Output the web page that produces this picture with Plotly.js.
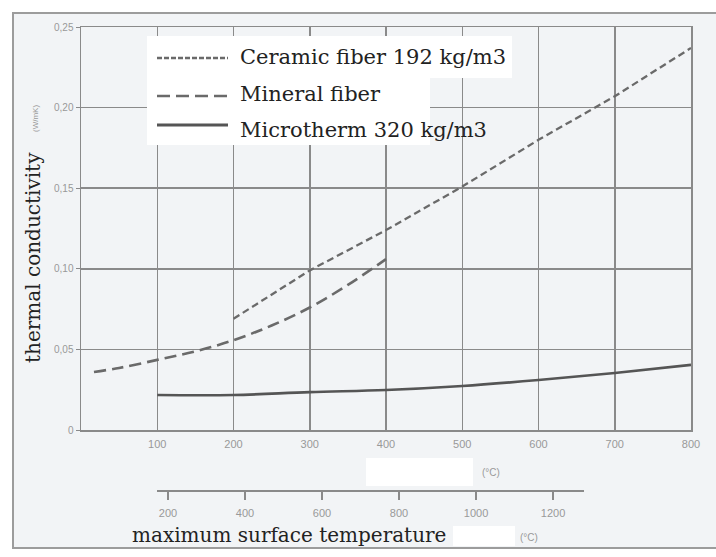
<!DOCTYPE html>
<html>
<head>
<meta charset="utf-8">
<script src="https://cdn.plot.ly/plotly-3.0.1.min.js"></script>
<style>
  html, body { margin: 0; padding: 0; background: #ffffff; }
  #chart { width: 716px; height: 557px; }
</style>
</head>
<body>
<div id="chart"></div>
<script>
// ---- data ----
const ceramicName = "Ceramic fiber 192 kg/m3";
const ceramicX = [200, 300, 400, 500, 600, 700, 800];
const ceramicY = [0.069, 0.099, 0.124, 0.151, 0.180, 0.207, 0.237];

const mineralName = "Mineral fiber";
const mineralX = [17, 50, 100, 150, 200, 250, 300, 350, 400];
const mineralY = [0.036, 0.0385, 0.0435, 0.0488, 0.0557, 0.0648, 0.076, 0.090, 0.106];

const microName = "Microtherm 320 kg/m3";
const microX = [100, 200, 300, 400, 500, 600, 700, 800];
const microY = [0.0217, 0.0217, 0.0235, 0.0248, 0.0273, 0.031, 0.0354, 0.0404];

const xTicks = [100, 200, 300, 400, 500, 600, 700, 800];
const yTicks = [0, 0.05, 0.10, 0.15, 0.20, 0.25];
const yTickText = ["0", "0,05", "0,10", "0,15", "0,20", "0,25"];
const x2Ticks = [200, 400, 600, 800, 1000, 1200];

const yTitle = "thermal conductivity";
const yUnit = "(W/mK)";
const x2Title = "maximum surface temperature";
const unitC = "(°C)";

// ---- layout helpers (pixel -> paper) ----
const M = {l: 81, r: 25, t: 27, b: 10};
const W = 716, H = 557;
const pw = W - M.l - M.r, ph = H - M.t - M.b;
const px = x => (x - M.l) / pw;
const py = y => (H - M.b - y) / ph;

const lineGray = "#6a6a6a";
const gridGray = "#8a8a8a";
const tickGray = "#999999";
const serif = "DejaVu Serif";

const traces = [
  {x: ceramicX, y: ceramicY, name: ceramicName, type: "scatter", mode: "lines",
   line: {color: lineGray, width: 2.3, dash: "7px,4px"}, showlegend: false},
  {x: mineralX, y: mineralY, name: mineralName, type: "scatter", mode: "lines",
   line: {color: lineGray, width: 2.6, dash: "12px,6px", shape: "spline"}, showlegend: false},
  {x: microX, y: microY, name: microName, type: "scatter", mode: "lines",
   line: {color: "#555555", width: 2.6, shape: "spline"}, showlegend: false},
  // empty trace so the second (maximum surface temperature) axis is drawn
  {x: [], y: [], xaxis: "x2", yaxis: "y2", type: "scatter", mode: "lines", showlegend: false, hoverinfo: "skip"}
];

const whiteRect = (x0, y0, x1, y1) => ({type: "rect", xref: "paper", yref: "paper",
  x0: px(x0), x1: px(x1), y0: py(y1), y1: py(y0), fillcolor: "#ffffff", line: {width: 0}, layer: "above"});
const sample = (y, dash, color, width) => ({type: "line", xref: "paper", yref: "paper",
  x0: px(157), x1: px(228), y0: py(y), y1: py(y), line: {color: color, width: width, dash: dash}, layer: "above"});

const shapes = [
  // outer frame (scanned page background)
  {type: "rect", xref: "paper", yref: "paper", x0: px(13), x1: px(730), y0: py(548), y1: py(13),
   fillcolor: "#f2f4f6", line: {color: "#9c9c9c", width: 2}, layer: "below"},
  // white patches
  whiteRect(366, 458, 473, 486),
  whiteRect(453, 526, 515, 546),
  // legend box
  whiteRect(147, 36, 512, 78),
  whiteRect(147, 78, 430, 145),
  sample(58, "5px,2px", lineGray, 2.4),
  sample(96, "13px,6px", lineGray, 2.4),
  sample(125, "solid", "#555555", 2.8)
];

const annotations = [
  {text: ceramicName, xref: "paper", yref: "paper", x: px(238), y: py(57), xanchor: "left", yanchor: "middle",
   showarrow: false, font: {family: serif, size: 21, color: "#222222"}},
  {text: mineralName, xref: "paper", yref: "paper", x: px(238), y: py(94), xanchor: "left", yanchor: "middle",
   showarrow: false, font: {family: serif, size: 21, color: "#222222"}},
  {text: microName, xref: "paper", yref: "paper", x: px(238), y: py(130), xanchor: "left", yanchor: "middle",
   showarrow: false, font: {family: serif, size: 21, color: "#222222"}},
  {text: yTitle, xref: "paper", yref: "paper", x: px(33), y: py(258), textangle: -90,
   xanchor: "center", yanchor: "middle", showarrow: false, font: {family: serif, size: 20, color: "#222222"}},
  {text: yUnit, xref: "paper", yref: "paper", x: px(35), y: py(118), textangle: -90,
   xanchor: "center", yanchor: "middle", showarrow: false, font: {family: "Arial", size: 8, color: tickGray}},
  {text: unitC, xref: "paper", yref: "paper", x: px(491), y: py(472),
   xanchor: "center", yanchor: "middle", showarrow: false, font: {family: "Arial", size: 10, color: tickGray}},
  {text: x2Title, xref: "paper", yref: "paper", x: px(130), y: py(535), xanchor: "left", yanchor: "middle",
   showarrow: false, font: {family: serif, size: 20, color: "#222222"}},
  {text: unitC, xref: "paper", yref: "paper", x: px(529), y: py(537),
   xanchor: "center", yanchor: "middle", showarrow: false, font: {family: "Arial", size: 10, color: tickGray}}
];

const layout = {
  width: W, height: H,
  margin: M,
  paper_bgcolor: "#ffffff",
  plot_bgcolor: "rgba(0,0,0,0)",
  showlegend: false,
  xaxis: {
    range: [0, 800], domain: [0, 1], tickvals: xTicks, ticks: "",
    showgrid: true, gridcolor: gridGray, gridwidth: 1.5, zeroline: false,
    showline: true, linecolor: gridGray, linewidth: 1.5, mirror: true,
    tickfont: {family: "Arial", size: 11, color: tickGray}, ticklabelstandoff: 3
  },
  yaxis: {
    range: [0, 0.25], domain: [py(430), 1], tickvals: yTicks, ticktext: yTickText,
    ticks: "outside", ticklen: 4, tickcolor: gridGray,
    showgrid: true, gridcolor: gridGray, gridwidth: 1.5, zeroline: false,
    showline: true, linecolor: gridGray, linewidth: 1.5, mirror: true,
    tickfont: {family: "Arial", size: 10, color: tickGray}
  },
  xaxis2: {
    range: [171.4, 1280.5], domain: [px(157), px(584)], anchor: "y2",
    tickvals: x2Ticks, ticks: "outside", ticklen: 8, tickcolor: gridGray, tickwidth: 1.5,
    showgrid: false, zeroline: false, showline: true, linecolor: gridGray, linewidth: 2,
    tickfont: {family: "Arial", size: 11, color: tickGray}, ticklabelstandoff: 4
  },
  yaxis2: {
    domain: [py(490), py(490) + 0.01], anchor: "x2", range: [0, 1],
    visible: false, showgrid: false, zeroline: false
  },
  shapes: shapes,
  annotations: annotations
};

Plotly.newPlot("chart", traces, layout, {displayModeBar: false, staticPlot: true});
</script>
</body>
</html>
